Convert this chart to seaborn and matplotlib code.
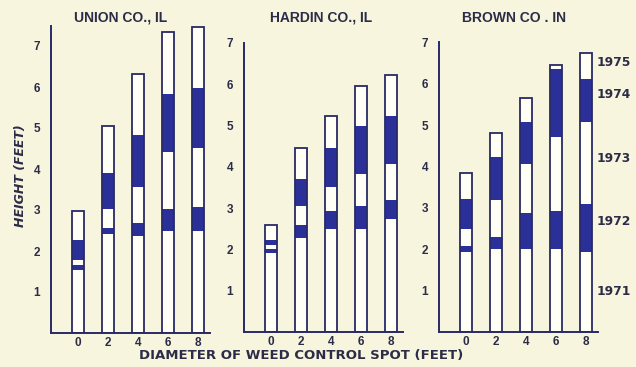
import matplotlib
matplotlib.use("Agg")
import matplotlib.pyplot as plt
import seaborn as sns
import pandas as pd

# Cumulative tree height (feet) at the end of each growing season
years = [1971, 1972, 1973, 1974, 1975]
diameters = [0, 2, 4, 6, 8]
counties = ["UNION CO., IL", "HARDIN CO., IL", "BROWN CO . IN"]

union_heights = [
    [1.54, 1.66, 1.78, 2.27, 2.98],
    [2.41, 2.56, 3.02, 3.91, 5.06],
    [2.37, 2.68, 3.56, 4.83, 6.32],
    [2.49, 3.02, 4.42, 5.82, 7.34],
    [2.49, 3.07, 4.51, 5.97, 7.46],
]
hardin_heights = [
    [1.91, 2.02, 2.10, 2.22, 2.58],
    [2.27, 2.58, 3.06, 3.70, 4.46],
    [2.49, 2.94, 3.51, 4.46, 5.22],
    [2.49, 3.04, 3.83, 4.99, 5.96],
    [2.74, 3.20, 4.07, 5.22, 6.22],
]
brown_heights = [
    [1.94, 2.08, 2.50, 3.21, 3.83],
    [2.00, 2.30, 3.20, 4.23, 4.81],
    [2.00, 2.87, 4.07, 5.08, 5.66],
    [2.00, 2.93, 4.72, 6.36, 6.45],
    [1.93, 3.09, 5.08, 6.10, 6.73],
]
year_labels = ["1971", "1972", "1973", "1974", "1975"]

rows = []
for county, table in zip(counties, [union_heights, hardin_heights, brown_heights]):
    for d, tops in zip(diameters, table):
        for y, top in zip(years, tops):
            rows.append({"county": county, "diameter": d, "year": y, "height": top})
df = pd.DataFrame(rows)

BG = "#f7f5dd"
WHITE = "#fffff6"
BLUE = "#2b2f98"
NAVY = "#272a66"
INK = "#2c2c48"
WIDE = ["DejaVu Sans"]

sns.set_theme(style="white")
plt.rcParams["font.family"] = ["Liberation Sans", "DejaVu Sans"]
plt.rcParams["font.weight"] = "bold"

W, H = 636, 367
fig = plt.figure(figsize=(W / 100, H / 100), dpi=100, facecolor=BG)

# axes placement in pixels
XMIN, XMAX = -1.8, 8.8
PX_PER_X = 15.0
panels = [
    {"left": 51, "zero": 333, "ppu": 41.0, "top": 7.5, "title_x": 121},
    {"left": 244, "zero": 332, "ppu": 41.3, "top": 7.0, "title_x": 321},
    {"left": 439, "zero": 332, "ppu": 41.4, "top": 7.0, "title_x": 514},
]
YMAX = 7.9
bar_width = 0.37
# vertical positions of the season labels next to the last Brown Co. bar
label_y = [0.97, 2.67, 4.2, 5.74, 6.5]

for i, (county, p) in enumerate(zip(counties, panels)):
    wpx = (XMAX - XMIN) * PX_PER_X
    hpx = YMAX * p["ppu"]
    ax = fig.add_axes([p["left"] / W, (H - p["zero"]) / H, wpx / W, hpx / H])
    ax.set_facecolor("none")
    sub = df[df["county"] == county]
    # stack seasons by overdrawing cumulative heights from the latest year down
    for y in reversed(years):
        color = WHITE if (years.index(y) % 2 == 0) else BLUE
        sns.barplot(data=sub[sub["year"] == y], x="diameter", y="height",
                    native_scale=True, width=bar_width, color=color,
                    saturation=1, errorbar=None, edgecolor="none",
                    linewidth=0, ax=ax)
    # outline of each full bar
    sns.barplot(data=sub[sub["year"] == years[-1]], x="diameter", y="height",
                native_scale=True, width=bar_width, fill=False,
                edgecolor=NAVY, linewidth=1.3, errorbar=None, ax=ax)
    ax.set_xlim(XMIN, XMAX)
    ax.set_ylim(0, YMAX)
    ax.set_xticks(diameters)
    ax.set_xticklabels([str(d) for d in diameters])
    ax.set_yticks(range(1, 8))
    ax.set_yticklabels([str(v) for v in range(1, 8)])
    ax.tick_params(length=0, labelsize=8.5, colors=INK)
    ax.tick_params(axis="x", pad=3)
    ax.tick_params(axis="y", pad=8)
    for lab in ax.get_xticklabels() + ax.get_yticklabels():
        lab.set_fontweight("bold")
    ax.set_xlabel("")
    ax.set_ylabel("")
    for s in ["top", "right"]:
        ax.spines[s].set_visible(False)
    for s in ["left", "bottom"]:
        ax.spines[s].set_color(NAVY)
        ax.spines[s].set_linewidth(1.4)
    ax.spines["left"].set_bounds(0, p["top"])
    ax.grid(False)
    ax.set_title(county, fontsize=10, fontweight="bold", color=INK, pad=0,
                 x=(p["title_x"] - p["left"]) / wpx,
                 y=(p["zero"] - 22) / hpx)
    if i == 2:
        for txt, yy in zip(year_labels, label_y):
            ax.text(8.7, yy, txt, ha="left", va="center", fontsize=8.8,
                    fontweight="bold", color=INK, clip_on=False, family=WIDE)

fig.text(21 / W, 1 - 176 / H, "HEIGHT (FEET)", rotation=90, ha="center",
         va="center", fontsize=9, fontweight="bold", style="italic", color=INK,
         family=WIDE)
fig.text(301 / W, 1 - 356 / H, "DIAMETER OF WEED CONTROL SPOT (FEET)",
         ha="center", va="center", fontsize=9.5, fontweight="bold", color=INK,
         family=WIDE)

fig.savefig("out.png", dpi=100, facecolor=BG)
